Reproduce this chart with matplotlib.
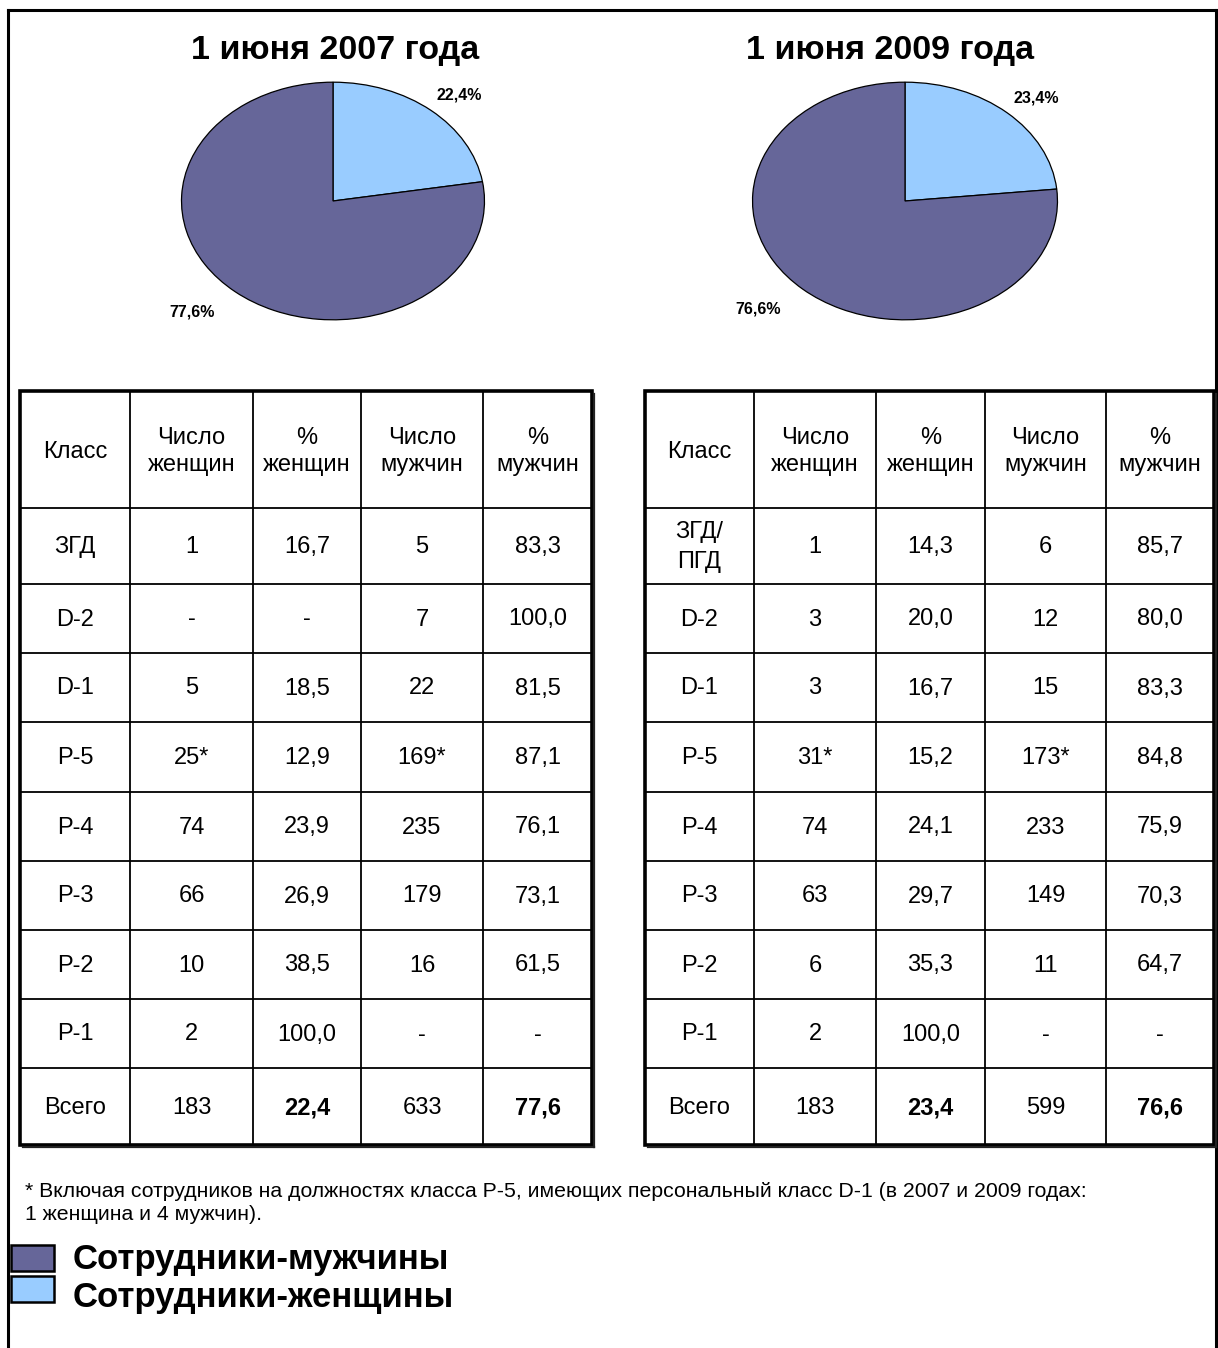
import matplotlib
matplotlib.use("Agg")
import matplotlib.pyplot as plt
from matplotlib.patches import Rectangle
import numpy as np

plt.rcParams['font.family'] = ['Liberation Sans', 'DejaVu Sans']

# ---------------- data ----------------
pie_titles = ["1 июня 2007 года", "1 июня 2009 года"]
women_share = [22.4, 23.4]
men_share = [77.6, 76.6]

header = ["Класс", "Число\nженщин", "%\nженщин", "Число\nмужчин", "%\nмужчин"]

classes_2007 = ["ЗГД", "D-2", "D-1", "Р-5", "Р-4", "Р-3", "Р-2", "Р-1", "Всего"]
women_n_2007 = ["1", "-", "5", "25*", "74", "66", "10", "2", "183"]
women_pct_2007 = ["16,7", "-", "18,5", "12,9", "23,9", "26,9", "38,5", "100,0", "22,4"]
men_n_2007 = ["5", "7", "22", "169*", "235", "179", "16", "-", "633"]
men_pct_2007 = ["83,3", "100,0", "81,5", "87,1", "76,1", "73,1", "61,5", "-", "77,6"]

classes_2009 = ["ЗГД/\nПГД", "D-2", "D-1", "Р-5", "Р-4", "Р-3", "Р-2", "Р-1", "Всего"]
women_n_2009 = ["1", "3", "3", "31*", "74", "63", "6", "2", "183"]
women_pct_2009 = ["14,3", "20,0", "16,7", "15,2", "24,1", "29,7", "35,3", "100,0", "23,4"]
men_n_2009 = ["6", "12", "15", "173*", "233", "149", "11", "-", "599"]
men_pct_2009 = ["85,7", "80,0", "83,3", "84,8", "75,9", "70,3", "64,7", "-", "76,6"]

footnote = ("* Включая сотрудников на должностях класса Р-5, имеющих персональный класс D-1 (в 2007 и 2009 годах:\n"
            "1 женщина и 4 мужчин).")
legend_labels = ["Сотрудники-мужчины", "Сотрудники-женщины"]

MEN_COLOR = "#666699"
WOMEN_COLOR = "#99CCFF"

W, H = 1218, 1348
fig = plt.figure(figsize=(W / 100, H / 100), dpi=100)
fig.patch.set_facecolor("white")

# overlay axes in pixel coordinates
ov = fig.add_axes([0, 0, 1, 1])
ov.set_xlim(0, W)
ov.set_ylim(H, 0)
ov.axis("off")

# outer frame
ov.plot([8, 8], [10, H + 5], color="black", lw=2.2)
ov.plot([8, 1216], [10, 10], color="black", lw=2.2)
ov.plot([1216, 1216], [10, H + 5], color="black", lw=2.2)

# ---------------- pies ----------------
pie_geom = [(333, 201, 153, 120), (905, 201, 154, 120)]
title_x = [335, 890]
label_dist = [1.22, 1.32]      # women, men label radial distance
label_shift = [-2.6, -4.6]     # angular nudge in degrees

def pct_fmt(p):
    return f"{p:.1f}%".replace(".", ",")

for i in range(2):
    cx, cy, rx, ry = pie_geom[i]
    ax = fig.add_axes([(cx - rx) / W, 1 - (cy + ry) / H, 2 * rx / W, 2 * ry / H])
    wedges, texts, autotexts = ax.pie(
        [women_share[i], men_share[i]],
        colors=[WOMEN_COLOR, MEN_COLOR],
        startangle=90, counterclock=False,
        autopct=pct_fmt, pctdistance=1.25,
        wedgeprops=dict(edgecolor="black", linewidth=0.9),
        textprops=dict(fontsize=11.5, fontweight="bold", color="black"),
    )
    for k, (w, at) in enumerate(zip(wedges, autotexts)):
        mid = np.deg2rad((w.theta1 + w.theta2) / 2 + label_shift[k])
        at.set_position((label_dist[k] * np.cos(mid), label_dist[k] * np.sin(mid)))
    ax.set_aspect("auto")
    ax.set_xlim(-1.01, 1.01)
    ax.set_ylim(-1.01, 1.01)
    ov.text(title_x[i], 51, pie_titles[i], ha="center", va="center",
            fontsize=24.5, fontweight="bold")

# ---------------- tables ----------------
row_edges = [391, 508, 584, 653, 722, 792, 861, 930, 999, 1068, 1145]
col_edges_list = [[20, 130, 253, 361, 483, 592], [645, 754, 876, 985, 1106, 1214]]
tables = [
    [classes_2007, women_n_2007, women_pct_2007, men_n_2007, men_pct_2007],
    [classes_2009, women_n_2009, women_pct_2009, men_n_2009, men_pct_2009],
]

for t in range(2):
    ce = col_edges_list[t]
    cols = tables[t]
    x0, x1 = ce[0], ce[-1]
    y0, y1 = row_edges[0], row_edges[-1]
    # inner lines
    for x in ce[1:-1]:
        ov.plot([x, x], [y0, y1], color="black", lw=1.3)
    for y in row_edges[1:-1]:
        ov.plot([x0, x1], [y, y], color="black", lw=1.3)
    # outer border + shadow
    ov.add_patch(Rectangle((x0, y0), x1 - x0, y1 - y0, fill=False,
                           edgecolor="black", lw=2.6))
    ov.plot([x1 + 2.2, x1 + 2.2], [y0 + 3, y1 + 2.2], color="#222222", lw=1.6)
    ov.plot([x0 + 3, x1 + 2.2], [y1 + 2.2, y1 + 2.2], color="#222222", lw=1.6)
    # header
    for j in range(5):
        xc = (ce[j] + ce[j + 1]) / 2
        ov.text(xc, (row_edges[0] + row_edges[1]) / 2 + 2, header[j],
                ha="center", va="center", fontsize=17, linespacing=1.3)
    # body
    nrows = len(cols[0])
    for r in range(nrows):
        yc = (row_edges[r + 1] + row_edges[r + 2]) / 2 + 1
        for j in range(5):
            xc = (ce[j] + ce[j + 1]) / 2
            bold = (r == nrows - 1 and j in (2, 4))
            ov.text(xc, yc, cols[j][r], ha="center", va="center",
                    fontsize=17, fontweight="bold" if bold else "normal",
                    linespacing=1.45)

# ---------------- footnote ----------------
ov.text(25, 1203, footnote, ha="left", va="center", fontsize=15.3, linespacing=1.3)

# ---------------- legend ----------------
leg_colors = [MEN_COLOR, WOMEN_COLOR]
patch_y = [1245, 1276]
text_y = [1260, 1297]
for k in range(2):
    ov.add_patch(Rectangle((11, patch_y[k]), 43, 26, facecolor=leg_colors[k],
                           edgecolor="black", lw=1.8))
    ov.text(73, text_y[k], legend_labels[k], ha="left", va="center",
            fontsize=25, fontweight="bold")

fig.savefig("out.png", dpi=100, facecolor="white")
